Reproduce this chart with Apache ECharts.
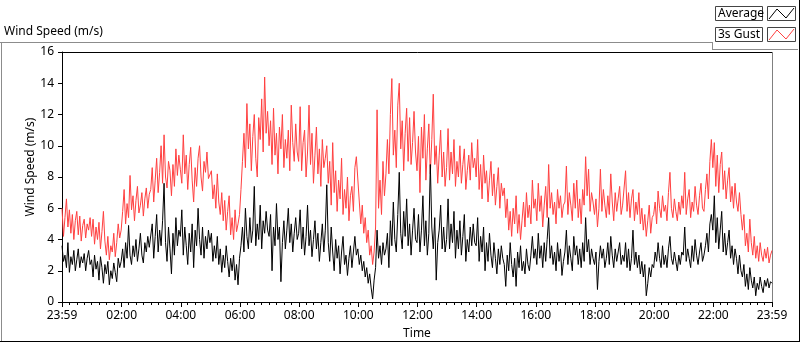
<!DOCTYPE html>
<html>
<head>
<meta charset="utf-8">
<script src="https://cdn.jsdelivr.net/npm/echarts@6/dist/echarts.min.js"></script>
<style>
html,body{margin:0;padding:0;background:#fff;}
#chart{width:800px;height:342px;}
</style>
</head>
<body>
<div id="chart"></div>
<script>
// minutes after 23:59, one sample every 3 minutes (20 samples per hour row)
var stepMinutes = 3;
var gust = [
6.0,4.2,5.4,6.6,4.8,5.9,4.4,5.6,4.0,5.2,5.8,4.3,5.5,3.9,4.9,5.3,4.1,5.0,4.6,5.4,
4.2,5.3,3.7,4.8,4.0,5.1,3.4,4.5,5.8,3.9,3.0,4.2,2.7,3.6,3.2,4.4,2.9,3.8,5.0,4.1,
4.6,5.8,7.2,5.0,6.3,5.4,8.1,5.9,6.8,5.2,6.5,7.4,5.7,6.2,7.0,5.5,6.6,7.3,6.0,6.9,
7.2,8.6,6.4,7.8,9.2,7.0,8.3,10.0,7.6,10.7,8.0,7.3,9.0,8.4,6.8,8.8,7.4,9.8,8.1,9.4,
8.5,7.6,10.7,8.2,9.4,7.2,8.8,9.9,7.8,6.4,8.6,7.4,9.2,10.0,8.0,7.1,9.0,8.3,9.6,7.9,
7.8,8.4,6.6,7.5,6.0,8.2,6.4,5.6,7.0,5.2,6.5,4.6,5.8,6.8,4.3,5.4,4.0,5.9,4.5,5.0,
5.6,7.2,9.0,10.8,8.6,12.7,9.8,11.4,8.4,10.6,12.0,9.2,8.0,11.8,10.4,13.0,9.6,14.4,10.8,12.2,
10.0,11.6,8.8,12.4,9.4,10.8,8.2,11.2,9.8,12.0,8.6,10.4,9.2,11.0,8.4,12.6,10.2,9.0,11.4,9.6,
9.0,12.5,8.4,10.2,11.0,8.0,9.6,12.6,8.8,10.8,7.6,9.4,11.2,8.2,9.8,7.4,10.4,8.6,9.2,10.0,
7.6,9.0,6.2,10.2,7.0,8.4,5.8,7.8,6.6,9.2,5.6,7.2,6.0,8.0,5.2,6.8,7.4,5.8,8.6,9.3,
9.4,6.4,5.0,6.2,4.4,5.4,3.8,4.6,3.0,3.6,2.4,3.2,4.8,12.3,6.0,7.8,5.6,9.0,6.8,8.2,
10.4,8.2,12.0,14.3,9.4,11.0,8.6,12.6,14.0,9.8,11.6,8.4,10.8,12.4,9.0,11.8,8.8,10.2,12.2,9.6,
8.4,10.6,7.0,11.2,9.2,12.0,7.8,9.8,11.4,8.2,10.4,13.3,8.8,10.0,7.6,9.4,11.0,8.0,9.6,7.4,
8.6,11.1,7.8,9.6,8.2,10.4,7.4,9.0,8.0,10.0,7.6,8.8,9.8,7.2,8.4,9.4,7.8,10.2,8.6,9.2,
8.0,10.4,7.2,8.8,6.6,9.4,7.6,8.4,6.4,7.8,9.0,6.8,8.2,6.2,7.4,8.6,6.0,7.6,6.8,7.3,
5.4,6.6,4.6,5.8,4.2,6.0,5.0,6.8,4.4,5.6,4.0,5.2,6.4,4.8,7.0,5.4,6.2,5.0,7.8,6.0,
6.6,5.2,7.6,5.8,6.8,4.8,6.2,7.4,5.4,8.8,6.0,7.0,5.6,6.4,5.0,7.2,6.0,6.8,5.4,6.2,
6.4,8.7,5.6,7.0,6.2,5.2,7.6,6.0,7.8,5.4,6.6,5.0,7.2,6.2,9.3,6.8,8.5,5.8,7.0,6.4,
5.6,6.6,4.8,6.0,8.5,5.8,7.2,6.2,5.4,6.8,5.6,8.2,6.4,5.2,7.0,5.8,6.6,7.4,5.6,6.2,
6.2,8.4,5.8,7.0,5.4,6.6,7.2,5.2,6.4,5.6,7.0,5.0,6.0,4.6,5.6,4.2,5.2,6.2,4.4,5.4,
5.6,6.4,5.0,7.1,6.0,5.4,6.8,5.8,6.2,5.2,7.0,8.3,6.0,5.4,6.6,5.8,5.2,6.4,5.6,6.8,
6.0,8.3,5.6,6.6,7.2,5.4,6.4,5.8,7.4,6.2,5.6,6.8,7.6,6.0,5.8,7.2,8.2,6.6,9.0,10.4,
8.6,10.2,7.4,9.4,7.0,8.8,9.6,7.2,8.4,6.6,7.8,8.6,6.4,7.4,6.0,7.6,6.4,5.8,7.0,5.6,
4.6,5.6,3.6,4.4,3.2,5.3,3.8,3.0,4.2,2.8,3.6,2.6,3.8,3.0,2.6,3.4,2.8,3.5,2.5,3.0,
3.3
];
var average = [
3.6,2.6,3.0,2.2,3.8,1.9,2.9,2.4,3.3,2.0,2.7,3.4,2.2,2.9,2.5,3.1,2.0,2.8,3.3,2.4,
2.7,1.6,3.0,2.1,2.6,1.4,2.9,2.2,1.2,2.4,1.8,2.6,1.1,2.0,1.5,2.5,1.9,1.3,2.8,2.2,
2.6,3.4,2.2,3.8,2.8,4.9,3.0,2.4,3.6,2.9,4.0,2.6,3.4,4.4,3.0,2.5,3.8,3.2,4.2,3.5,
3.4,5.0,2.8,4.2,5.6,3.2,4.6,3.6,5.2,7.6,3.8,2.6,4.8,3.4,1.8,4.4,3.0,5.4,3.6,4.6,
4.2,5.9,3.0,4.8,3.6,2.4,4.4,3.2,5.0,2.2,4.6,3.6,6.0,4.0,3.0,4.8,2.8,4.2,3.4,4.6,
3.8,4.4,2.6,3.6,2.8,4.2,2.4,3.4,1.9,3.0,2.2,3.6,2.6,1.6,2.8,2.0,3.0,1.4,2.4,1.1,
2.8,3.6,4.8,3.2,6.0,4.2,3.4,5.4,3.8,4.6,7.4,3.6,5.0,4.0,6.2,3.4,5.2,4.4,5.8,4.6,
4.2,5.6,2.0,4.8,3.6,6.3,4.0,4.8,1.3,3.8,5.2,3.4,4.6,6.0,3.8,5.0,3.2,4.4,5.4,4.0,
4.4,5.9,3.4,4.8,3.0,4.2,6.2,3.6,4.6,2.9,4.0,5.2,3.4,4.4,2.6,3.8,5.0,3.2,4.6,7.5,
3.8,2.6,4.8,3.2,2.0,4.0,2.8,3.6,1.8,3.2,4.2,2.4,3.0,1.7,2.8,3.6,2.2,3.2,4.2,3.0,
3.4,2.4,3.0,2.0,2.6,1.6,2.2,1.2,1.8,0.9,0.2,1.4,2.2,4.6,2.8,3.6,2.4,3.8,3.0,3.4,
4.4,2.2,5.2,3.6,6.4,4.0,3.2,5.6,8.3,4.4,3.4,5.8,4.2,6.6,3.6,5.0,3.0,4.6,6.0,4.0,
3.8,5.6,3.2,4.6,6.8,3.6,5.2,3.0,4.4,8.8,4.8,3.4,5.4,1.4,3.8,4.6,6.2,3.4,4.8,3.2,
4.0,6.6,3.4,5.0,3.8,5.8,2.8,4.6,3.4,5.2,3.0,4.2,5.6,2.6,4.0,3.2,4.8,3.6,5.0,3.8,
3.6,5.4,2.6,4.2,3.2,4.8,2.0,3.8,2.6,4.4,3.0,2.2,3.8,2.8,1.8,3.4,2.4,3.6,2.8,2.4,
1.0,3.0,2.0,3.8,2.4,1.6,2.8,1.0,3.2,2.2,3.6,2.0,2.6,1.8,3.4,2.4,2.0,3.0,4.2,2.8,
3.4,2.4,4.4,2.8,3.6,2.2,3.8,2.6,4.0,5.4,2.8,3.6,2.4,3.2,2.0,3.8,2.6,3.4,1.7,2.6,
3.2,4.6,2.4,3.6,2.8,2.0,4.2,3.0,3.6,2.4,3.4,2.2,3.8,2.6,5.4,3.2,4.0,2.4,3.4,2.8,
2.4,3.2,0.8,2.6,3.6,2.8,3.4,2.2,2.8,3.8,2.4,4.2,3.0,2.2,3.4,2.6,3.2,3.8,2.4,3.0,
2.6,3.8,2.2,3.4,2.0,2.8,4.6,2.4,3.2,2.2,3.0,1.8,2.6,1.6,2.4,0.4,1.2,2.2,1.6,2.4,
2.2,3.2,2.6,3.8,2.8,2.2,3.6,2.4,3.0,2.2,3.4,4.2,2.8,2.4,3.2,2.6,2.0,3.0,2.4,3.2,
3.0,4.8,2.6,3.4,2.8,2.2,3.6,2.6,4.0,3.0,2.4,3.2,3.8,2.6,3.0,3.6,4.4,3.2,5.0,5.6,
4.6,6.8,3.8,5.4,3.4,4.6,5.8,3.2,4.4,3.0,3.8,4.6,2.8,3.6,2.4,3.4,2.8,1.8,3.0,2.0,
1.6,2.4,1.0,1.8,0.8,2.2,1.4,0.9,1.6,0.4,1.2,0.8,1.6,1.0,0.6,1.4,1.0,1.5,0.9,1.3,
1.2
];
var majorTickMinutes = [0,121,241,361,481,601,721,841,961,1081,1201,1321,1440];
var majorTickLabels = ['23:59','02:00','04:00','06:00','08:00','10:00','12:00','14:00','16:00','18:00','20:00','22:00','23:59'];

var minorTicks = [];
for (var k = 1; k < 96; k++) { if (k % 8 !== 0) minorTicks.push(k * 15); }

function toPairs(arr) {
  return arr.map(function (v, i) { return [i * stepMinutes, v]; });
}

var FONT = 'Noto Sans';
var chart = echarts.init(document.getElementById('chart'), null, {renderer: 'canvas'});
var option = {
  animation: false,
  backgroundColor: '#fff',
  grid: {left: 62, top: 52, width: 710, height: 250, containLabel: false},
  xAxis: [{
    type: 'value', min: 0, max: 1440,
    axisLine: {show: true, lineStyle: {color: '#000', width: 1}},
    axisTick: {show: true, customValues: majorTickMinutes, length: 5, lineStyle: {color: '#000', width: 1}},
    axisLabel: {
      customValues: majorTickMinutes, margin: 8, color: '#000', fontSize: 12, fontFamily: FONT,
      formatter: function (v) {
        var idx = majorTickMinutes.indexOf(Math.round(v));
        return idx >= 0 ? majorTickLabels[idx] : '';
      }
    },
    splitLine: {show: false}
  }, {
    type: 'value', min: 0, max: 1440, position: 'bottom',
    axisLine: {show: false},
    axisTick: {show: true, customValues: minorTicks, length: 3, lineStyle: {color: '#000', width: 1}},
    axisLabel: {show: false},
    splitLine: {show: false}
  }],
  yAxis: {
    type: 'value', min: 0, max: 16, interval: 2,
    axisLine: {show: true, lineStyle: {color: '#000', width: 1}},
    axisTick: {show: true, length: 4, lineStyle: {color: '#000'}},
    axisLabel: {margin: 8, color: '#000', fontSize: 12, fontFamily: FONT},
    splitLine: {show: false}
  },
  series: [{
    name: '3s Gust', type: 'line', xAxisIndex: 0, data: toPairs(gust),
    showSymbol: false, symbol: 'none', lineStyle: {color: '#ff4040', width: 1}, z: 2
  }, {
    name: 'Average', type: 'line', xAxisIndex: 0, data: toPairs(average),
    showSymbol: false, symbol: 'none', lineStyle: {color: '#000', width: 1}, z: 3
  }],
  graphic: [
    {type: 'line', shape: {x1: 0, y1: 42.5, x2: 712, y2: 42.5}, style: {stroke: '#8c8c8c', lineWidth: 1}},
    {type: 'line', shape: {x1: 712.5, y1: 42, x2: 712.5, y2: 49.5}, style: {stroke: '#8c8c8c', lineWidth: 1}},
    {type: 'line', shape: {x1: 712, y1: 49.5, x2: 798, y2: 49.5}, style: {stroke: '#8c8c8c', lineWidth: 1}},
    {type: 'line', shape: {x1: 1.5, y1: 42, x2: 1.5, y2: 342}, style: {stroke: '#8c8c8c', lineWidth: 1}},
    {type: 'line', shape: {x1: 0, y1: 341.5, x2: 800, y2: 341.5}, style: {stroke: '#000', lineWidth: 1}},
    {type: 'line', shape: {x1: 799.5, y1: 0, x2: 799.5, y2: 342}, style: {stroke: '#000', lineWidth: 1}},
    {type: 'line', shape: {x1: 62, y1: 52.5, x2: 772.5, y2: 52.5}, style: {stroke: '#000', lineWidth: 1}},
    {type: 'line', shape: {x1: 772.5, y1: 52, x2: 772.5, y2: 303}, style: {stroke: '#808080', lineWidth: 1}},
    {type: 'text', x: 4, y: 32, style: {text: 'Wind Speed (m/s)', fontSize: 12, fontFamily: FONT, fill: '#000', verticalAlign: 'middle', align: 'left'}},
    {type: 'text', x: 31, y: 167, rotation: Math.PI / 2, style: {text: 'Wind Speed (m/s)', fontSize: 12, fontFamily: FONT, fill: '#000', verticalAlign: 'middle', align: 'center'}},
    {type: 'text', x: 417, y: 334, style: {text: 'Time', fontSize: 12, fontFamily: FONT, fill: '#000', verticalAlign: 'middle', align: 'center'}},
    {type: 'rect', shape: {x: 715.5, y: 6.5, width: 47, height: 14}, style: {fill: '#fff', stroke: '#444', lineWidth: 1}},
    {type: 'text', x: 718, y: 14, style: {text: 'Average', fontSize: 12, fontFamily: FONT, fill: '#000', verticalAlign: 'middle', align: 'left'}},
    {type: 'rect', shape: {x: 767.5, y: 6.5, width: 28, height: 14}, style: {fill: '#fff', stroke: '#444', lineWidth: 1}},
    {type: 'polyline', shape: {points: [[769, 19], [777, 9], [786, 18], [794, 8]]}, style: {stroke: '#000', lineWidth: 1, fill: null}},
    {type: 'rect', shape: {x: 715.5, y: 27.5, width: 47, height: 14}, style: {fill: '#fff', stroke: '#444', lineWidth: 1}},
    {type: 'text', x: 718, y: 35, style: {text: '3s Gust', fontSize: 12, fontFamily: FONT, fill: '#000', verticalAlign: 'middle', align: 'left'}},
    {type: 'rect', shape: {x: 767.5, y: 27.5, width: 28, height: 14}, style: {fill: '#fff', stroke: '#444', lineWidth: 1}},
    {type: 'polyline', shape: {points: [[769, 40], [777, 30], [786, 39], [794, 29]]}, style: {stroke: '#ff4040', lineWidth: 1, fill: null}}
  ]
};
chart.setOption(option);
</script>
</body>
</html>
